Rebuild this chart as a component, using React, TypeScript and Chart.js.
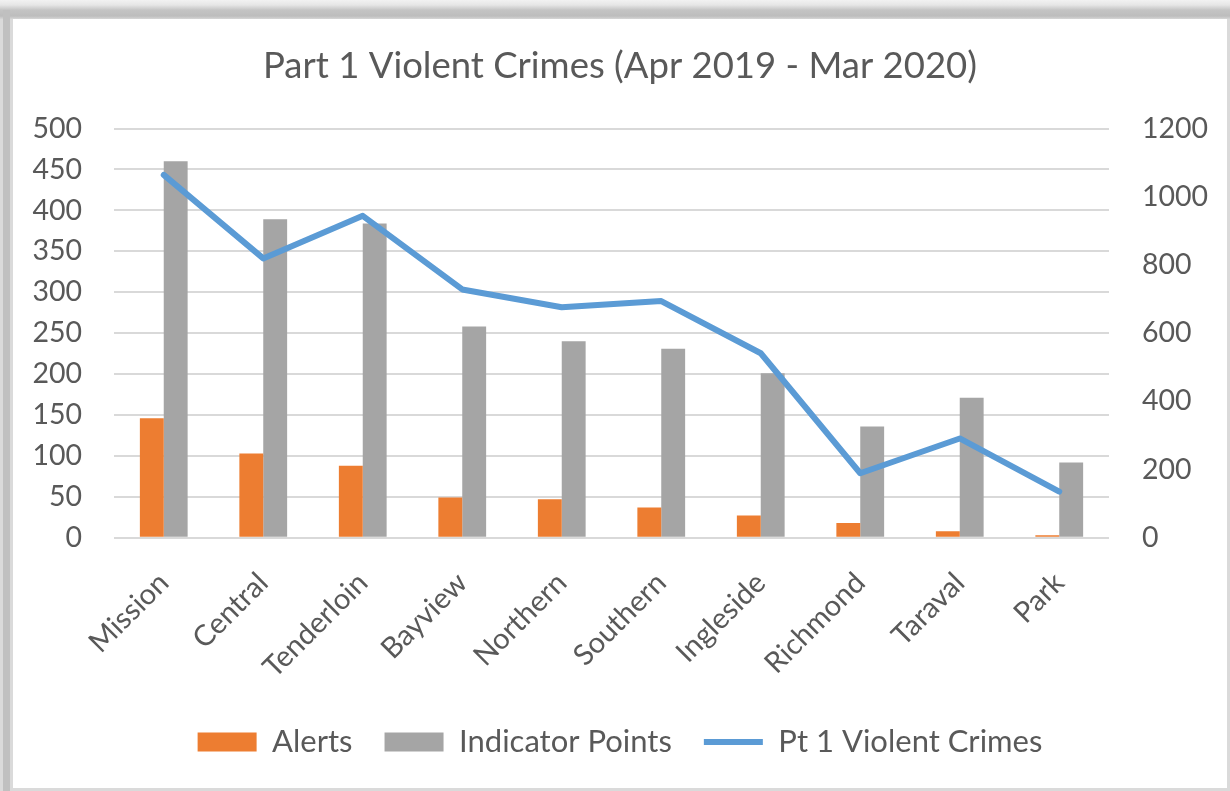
import React, { useEffect, useRef } from "react";
import { Chart, registerables } from "chart.js";

Chart.register(...registerables);

const categories = ["Mission", "Central", "Tenderloin", "Bayview", "Northern", "Southern", "Ingleside", "Richmond", "Taraval", "Park"];
const alerts = [146, 103, 88, 49, 47, 37, 27, 18, 8, 3];
const indicatorPoints = [460, 389, 384, 258, 240, 231, 201, 136, 171, 92];
const violentCrimes = [1064, 819, 944, 728, 676, 694, 541, 189, 291, 135];
const leftTicks = [0, 50, 100, 150, 200, 250, 300, 350, 400, 450, 500];
const rightTicks = [0, 200, 400, 600, 800, 1000, 1200];

const FONT = "Lato, 'Open Sans', sans-serif";
const TEXT = "#595959";

export default function App() {
  const ref = useRef<HTMLCanvasElement>(null);
  useEffect(() => {
    const chart = new Chart(ref.current!, {
      data: {
        labels: categories,
        datasets: [
          {
            type: "bar",
            label: "Alerts",
            data: alerts,
            backgroundColor: "#ED7D31",
            borderWidth: 0,
            yAxisID: "y",
            order: 1,
            pointStyle: "rect",
            barPercentage: 1,
            categoryPercentage: 0.48,
          } as any,
          {
            type: "bar",
            label: "Indicator Points",
            data: indicatorPoints,
            backgroundColor: "#A5A5A5",
            borderWidth: 0,
            yAxisID: "y",
            order: 1,
            pointStyle: "rect",
            barPercentage: 1,
            categoryPercentage: 0.48,
          } as any,
          {
            type: "line",
            label: "Pt 1 Violent Crimes",
            data: violentCrimes,
            borderColor: "#5B9BD5",
            backgroundColor: "#5B9BD5",
            borderWidth: 6,
            borderCapStyle: "round",
            borderJoinStyle: "round",
            pointRadius: 0,
            pointStyle: "line",
            tension: 0,
            yAxisID: "y1",
            order: 0,
          } as any,
        ],
      },
      options: {
        responsive: false,
        animation: false,
        layout: { padding: { left: 0, right: 0, top: 0, bottom: 20.5 } },
        plugins: {
          tooltip: { enabled: false },
          title: {
            display: true,
            text: "Part 1 Violent Crimes (Apr 2019 - Mar 2020)",
            color: TEXT,
            font: { family: FONT, size: 36.5, weight: "normal" },
            padding: { top: 25, bottom: 40.7 },
          },
          legend: {
            position: "bottom",
            labels: {
              usePointStyle: true,
              pointStyleWidth: 59,
              boxHeight: 19,
              padding: 32,
              color: TEXT,
              font: { family: FONT, size: 31 },
              sort: (a: any, b: any) => a.datasetIndex - b.datasetIndex,
            },
          },
        },
        scales: {
          x: {
            grid: { display: false, drawTicks: false },
            border: { display: false },
            ticks: {
              color: TEXT,
              font: { family: FONT, size: 29 },
              minRotation: 45,
              maxRotation: 45,
              padding: 28,
              autoSkip: false,
            },
            afterFit: (s: any) => { s.height = 156.8; },
          },
          y: {
            position: "left",
            min: 0,
            max: 500,
            afterBuildTicks: (s: any) => { s.ticks = leftTicks.map((v) => ({ value: v })); },
            grid: { color: "#D9D9D9", lineWidth: 2, drawTicks: false },
            border: { display: false },
            ticks: { color: TEXT, font: { family: FONT, size: 28.5 }, padding: 32, callback: (v: any) => String(v) },
            afterFit: (s: any) => { s.width = 101; },
          },
          y1: {
            position: "right",
            min: 0,
            max: 1200,
            afterBuildTicks: (s: any) => { s.ticks = rightTicks.map((v) => ({ value: v })); },
            grid: { display: false, drawTicks: false },
            border: { display: false },
            ticks: { color: TEXT, font: { family: FONT, size: 28.5 }, padding: 33, callback: (v: any) => String(v) },
            afterFit: (s: any) => { s.width = 118; },
          },
        },
      } as any,
    });
    return () => chart.destroy();
  }, []);

  return (
    <div style={{ position: "fixed", left: 0, top: 0, width: 1230, height: 791, background: "#dadada", overflow: "hidden" }}>
      <div style={{ position: "absolute", left: 0, top: 0, width: 1230, height: 19, background: "linear-gradient(#f2f2f2 0px, #e6e6e6 5px, #c4c4c4 10px, #bdbdbd 16px, #d6d6d6 19px)" }} />
      <div style={{ position: "absolute", left: 3, top: 10, width: 7, height: 781, background: "#c0c0c0" }} />
      <div style={{ position: "absolute", left: 13, top: 19, width: 1214, height: 769, background: "#ffffff" }}>
        <canvas ref={ref} width={1214} height={769} style={{ display: "block" }} />
      </div>
    </div>
  );
}
